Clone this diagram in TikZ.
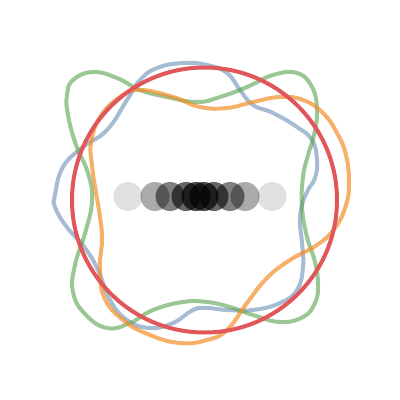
\documentclass[tikz,border=0pt]{standalone}
\begin{document}
\begin{tikzpicture}[x=1pt,y=-1pt]
\definecolor{cblue}{HTML}{4E79A7}
\definecolor{cgreen}{HTML}{59A14F}
\definecolor{corange}{HTML}{F28E2B}
\definecolor{cred}{HTML}{E15759}
\tikzset{
  wave/.style={line width=4pt, line join=round, draw opacity=#1},
  dot/.style={fill=black, fill opacity=#1, draw=none},
}
\useasboundingbox (0,0) rectangle (400,400);
% row of dots
\foreach \xx/\op in {128/0.12,272/0.12,155/0.33,245/0.33,170/0.5,230/0.5,186/0.6,214/0.6,196/0.7,204/0.7}
  \fill[dot=\op] (\xx,196.5) circle (14.5);
% blue-gray curve
\draw[wave=0.5, cblue] plot[smooth cycle, tension=0.75] coordinates {
 (55,195) (63,167) (83,147) (107,130) (127,100) (140,80) (157,68) (183,63)
 (207,65) (227,73) (240,90) (253,105) (273,113) (297,127) (312,140) (317,160)
 (315,178) (308,190) (302,205) (300,222) (302,243) (303,267) (297,290) (280,303)
 (253,310) (227,310) (207,308) (193,310) (173,323) (150,328) (127,320) (110,300)
 (98,270) (85,248) (66,226) (55,207)};
% green curve
\draw[wave=0.6, cgreen] plot[smooth cycle, tension=0.75] coordinates {
 (92,200) (88,173) (76,145) (68,115) (67,95) (73,80) (93,72) (117,78)
 (140,90) (167,97) (197,102) (220,97) (247,87) (273,75) (297,73) (312,87)
 (317,110) (314,135) (308,155) (303,177) (302,207) (307,237) (315,262) (318,285)
 (315,303) (303,317) (280,322) (253,315) (230,307) (207,302) (183,302) (153,310)
 (130,323) (107,328) (85,314) (73,292) (75,265) (86,230)};
% orange curve
\draw[wave=0.7, corange] plot[smooth cycle, tension=0.75] coordinates {
 (95,187) (100,217) (102,240) (100,267) (104,297) (123,320) (150,335) (180,343)
 (207,340) (227,330) (247,303) (267,278) (290,260) (317,245) (335,228) (346,205)
 (349,183) (346,155) (337,133) (323,113) (303,100) (280,97) (253,102) (227,108)
 (200,107) (173,97) (140,90) (120,97) (100,117) (91,143) (92,165)};
% red circle
\draw[wave=1, cred] (204.5,200) circle (132.5);
\end{tikzpicture}
\end{document}
